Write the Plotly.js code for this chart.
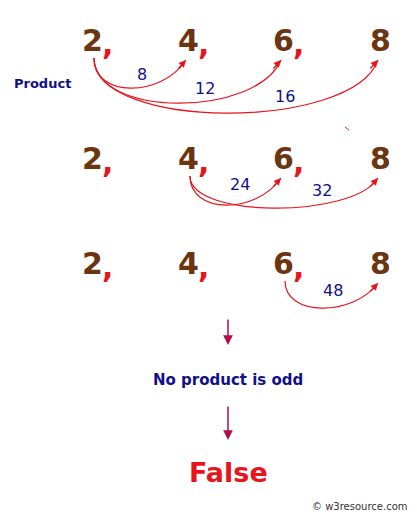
<html><head><script src="https://cdn.plot.ly/plotly-3.0.1.min.js"></script>
<style>body{margin:0}</style></head><body><div id="c" style="width:417px;height:520px"></div>
<script>
const numbers = [2, 4, 6, 8];
const products = [[8, 12, 16], [24, 32], [48]];
const labelText = "Product";
const conclusion = "No product is odd";
const result = "False";

const colX = [92, 188, 283, 380];
const rowY = [40, 158, 263];
const brown = "#6b3510", red = "#e8141c", blue = "#10108c", crimson = "#b0104a";
const ann = [], shapes = [];
const F = "DejaVu Sans";
rowY.forEach(y => numbers.forEach((n, i) => {
  ann.push({x: colX[i], y: y, text: "<b>" + n + "</b>", showarrow: false, font: {family: F, size: 30, color: brown}});
  if (i < 3) ann.push({x: colX[i] + 15, y: y + 4, text: "<b>,</b>", showarrow: false, font: {family: F, size: 30, color: red}});
}));
const bottoms = [[88, 103, 113], [205, 208], [308]];
const labPos = [[[142, 74], [205, 88], [285, 96]], [[240, 184], [322, 190]], [[333, 290]]];
products.forEach((row, r) => {
  const s = r;
  row.forEach((p, k) => {
    const e = s + k + 1;
    const x0 = colX[s] + 2, y0 = rowY[r] + 18, x1 = colX[e] - 2, y1 = rowY[r] + 20;
    const yb = bottoms[r][k] + (bottoms[r][k] - y0) * 0.33;
    shapes.push({type: "path", xref: "x", yref: "y", path: `M${x0},${y0} C${x0},${yb} ${x1 - 25},${yb} ${x1},${y1}`, line: {color: red, width: 1.2}});
    ann.push({x: x1, y: y1, ax: x1 - 9, ay: y1 + 10, axref: "x", ayref: "y", xref: "x", yref: "y", text: "", showarrow: true, arrowhead: 2, arrowsize: 1.2, arrowwidth: 1.2, arrowcolor: red});
    ann.push({x: labPos[r][k][0], y: labPos[r][k][1], text: String(p), showarrow: false, font: {family: F, size: 16, color: blue}});
  });
});
ann.push({x: 42, y: 83, text: "<b>" + labelText + "</b>", showarrow: false, font: {family: F, size: 13, color: blue}});
[[318, 345], [405, 440]].forEach(([a, b]) => ann.push({x: 228, y: b, ax: 228, ay: a, axref: "x", ayref: "y", text: "", showarrow: true, arrowhead: 2, arrowsize: 1.3, arrowwidth: 1.5, arrowcolor: crimson}));
ann.push({x: 228, y: 380, text: "<b>" + conclusion + "</b>", showarrow: false, font: {family: F, size: 15, color: blue}});
ann.push({x: 228, y: 472, text: "<b>" + result + "</b>", showarrow: false, font: {family: F, size: 27, color: red}});
ann.push({x: 360, y: 506, text: "© w3resource.com", showarrow: false, font: {family: F, size: 10, color: "#333"}});
shapes.push({type: "line", x0: 345, y0: 127, x1: 349, y1: 130, line: {color: red, width: 1}});
Plotly.newPlot("c", [], {
  width: 417, height: 520, margin: {l: 0, r: 0, t: 0, b: 0}, paper_bgcolor: "#fff", plot_bgcolor: "#fff",
  xaxis: {range: [0, 417], visible: false}, yaxis: {range: [520, 0], visible: false},
  annotations: ann, shapes: shapes, showlegend: false
}, {displayModeBar: false});
</script></body></html>
